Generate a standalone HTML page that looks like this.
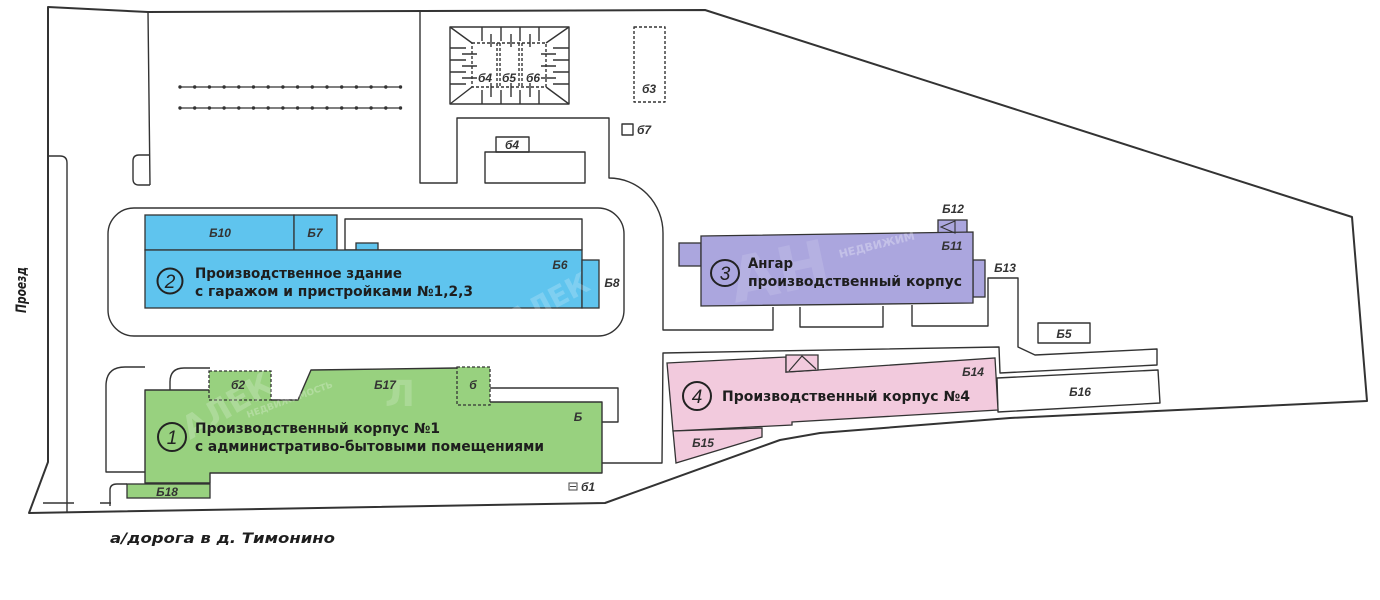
<!DOCTYPE html>
<html><head><meta charset="utf-8">
<style>
html,body{margin:0;padding:0;background:#fff;}
svg{display:block;}
.s{fill:none;stroke:#333;stroke-width:1.4;stroke-linejoin:round;}
.l{font-family:"Liberation Sans",sans-serif;font-style:italic;font-weight:bold;font-size:12px;fill:#333;}
.t{font-family:"DejaVu Sans","Liberation Sans",sans-serif;font-weight:bold;font-size:14px;fill:#1e1e1e;}
.n{font-family:"Liberation Sans",sans-serif;font-style:italic;font-size:19px;fill:#222;}
.w{font-family:"DejaVu Sans","Liberation Sans",sans-serif;font-weight:bold;fill:#fff;}
</style></head><body>
<svg width="1380" height="600" viewBox="0 0 1380 600" xmlns="http://www.w3.org/2000/svg">
<rect width="1380" height="600" fill="#fff"/>

<!-- outer boundary -->
<polygon class="s" style="stroke-width:2" points="48,7 148,12 705,10 1352,217 1367,401 1010,418 820,433 780,440 605,503 29,513 48,462"/>

<!-- left inner road line -->
<path class="s" d="M48,156 H60 Q67,156 67,163 V513"/>
<path class="s" d="M43,503 H74 M100,503 H111"/>

<!-- top-left vertical and small rounded -->
<path class="s" d="M148,12 L150,185 M150,155 H139 Q133,155 133,161 V179 Q133,185 139,185 H150"/>

<!-- fences -->
<g stroke="#333" stroke-width="1.3">
<line x1="180" y1="87" x2="401" y2="87"/><line x1="180" y1="108" x2="401" y2="108"/>
</g>
<g fill="#333">
<circle cx="180" cy="87" r="1.7"/><circle cx="194.7" cy="87" r="1.7"/><circle cx="209.4" cy="87" r="1.7"/><circle cx="224.1" cy="87" r="1.7"/><circle cx="238.8" cy="87" r="1.7"/><circle cx="253.5" cy="87" r="1.7"/><circle cx="268.2" cy="87" r="1.7"/><circle cx="282.9" cy="87" r="1.7"/><circle cx="297.6" cy="87" r="1.7"/><circle cx="312.3" cy="87" r="1.7"/><circle cx="327" cy="87" r="1.7"/><circle cx="341.7" cy="87" r="1.7"/><circle cx="356.4" cy="87" r="1.7"/><circle cx="371.1" cy="87" r="1.7"/><circle cx="385.8" cy="87" r="1.7"/><circle cx="400.5" cy="87" r="1.7"/>
<circle cx="180" cy="108" r="1.7"/><circle cx="194.7" cy="108" r="1.7"/><circle cx="209.4" cy="108" r="1.7"/><circle cx="224.1" cy="108" r="1.7"/><circle cx="238.8" cy="108" r="1.7"/><circle cx="253.5" cy="108" r="1.7"/><circle cx="268.2" cy="108" r="1.7"/><circle cx="282.9" cy="108" r="1.7"/><circle cx="297.6" cy="108" r="1.7"/><circle cx="312.3" cy="108" r="1.7"/><circle cx="327" cy="108" r="1.7"/><circle cx="341.7" cy="108" r="1.7"/><circle cx="356.4" cy="108" r="1.7"/><circle cx="371.1" cy="108" r="1.7"/><circle cx="385.8" cy="108" r="1.7"/><circle cx="400.5" cy="108" r="1.7"/>
</g>

<!-- roads -->
<path class="s" d="M420,10 V183 H457 V118 H609 V178 A54,55 0 0 1 663,233 V330 H773 V307 M800,307 V327 H883 V306 M912,305 V326 H988 V278 H1018 V347 L1035,355 L1157,349 V365 L1000,373 L999,347 L663,353 L662,463 H602"/>
<polygon class="s" points="997,378 1158,370 1160,403 998,412"/>
<rect class="s" x="1038" y="323" width="52" height="20"/>

<!-- hatched structure -->
<rect class="s" x="450" y="27" width="119" height="77"/>
<rect class="s" x="472" y="43" width="74" height="44" stroke-dasharray="3,2"/>
<path class="s" stroke-dasharray="3,2" d="M497,43 V87 M500,43 V87 M519,43 V87 M522,43 V87"/>
<path class="s" d="M450,27 L472,43 M569,27 L546,43 M450,104 L472,87 M569,104 L546,87"/>
<path class="s" stroke-width="1.1" d="M482,27 V41 M501,27 V41 M520,27 V41 M539,27 V41 M491,34 V47 M511,34 V47 M530,34 V47
M482,90 V104 M501,90 V104 M520,90 V104 M539,90 V104 M491,83 V97 M511,83 V97 M530,83 V97
M450,48 H466 M450,60 H466 M450,72 H466 M450,84 H466 M462,54 H477 M462,66 H477 M462,78 H477
M553,48 H569 M553,60 H569 M553,72 H569 M553,84 H569 M541,54 H556 M541,66 H556 M541,78 H556"/>
<text class="l" x="485" y="82" text-anchor="middle">б4</text>
<text class="l" x="509" y="82" text-anchor="middle">б5</text>
<text class="l" x="533" y="82" text-anchor="middle">б6</text>

<rect class="s" x="634" y="27" width="31" height="75" stroke-dasharray="3,2"/>
<text class="l" x="649" y="93" text-anchor="middle">б3</text>
<rect class="s" x="622" y="124" width="11" height="11"/>
<text class="l" x="637" y="134">б7</text>

<rect class="s" x="485" y="152" width="100" height="31"/>
<rect class="s" x="496" y="137" width="33" height="15"/>
<text class="l" x="512" y="149" text-anchor="middle">б4</text>

<!-- Building 2 -->
<rect class="s" x="108" y="208" width="516" height="128" rx="26"/>
<rect class="s" x="345" y="219" width="237" height="31"/>
<g fill="#5fc4ee" stroke="#333" stroke-width="1.3">
<rect x="145" y="215" width="149" height="35"/>
<rect x="294" y="215" width="43" height="35"/>
<rect x="356" y="243" width="22" height="7"/>
<rect x="145" y="250" width="437" height="58"/>
<rect x="582" y="260" width="17" height="48"/>
</g>
<text class="l" x="220" y="237" text-anchor="middle">Б10</text>
<text class="l" x="315" y="237" text-anchor="middle">Б7</text>
<text class="l" x="560" y="269" text-anchor="middle">Б6</text>
<text class="l" x="612" y="287" text-anchor="middle">Б8</text>
<text class="w" x="515" y="330" font-size="28" opacity="0.2" transform="rotate(-28 515 330)">АЛЕК</text>
<circle cx="170" cy="281" r="12.5" fill="none" stroke="#222" stroke-width="2"/>
<text class="n" x="170" y="288" text-anchor="middle">2</text>
<text class="t" x="195" y="278" textLength="207" lengthAdjust="spacingAndGlyphs">Производственное здание</text>
<text class="t" x="195" y="296" textLength="278" lengthAdjust="spacingAndGlyphs">с гаражом и пристройками №1,2,3</text>

<!-- Building 1 roads -->
<path class="s" d="M145,367 H125 Q106,367 106,386 V472 H145"/>
<path class="s" d="M170,390 V382 Q170,368 184,368 H210"/>
<path class="s" d="M110,506 V490 Q110,484 117,484 H127"/>
<path class="s" d="M490,388 H618 V422 H602"/>

<!-- Building 1 -->
<polygon fill="#98d17f" points="145,390 209,390 209,371 271,371 271,400 298,400 311,370 457,368 457,367 490,367 490,402 602,402 602,473 210,473 210,483 145,483"/>
<path class="s" d="M209,390 H145 V483 H210 V473 H602 V402 H490 M271,400 H298 L311,370 L457,368"/>
<rect x="209" y="371" width="62" height="29" fill="#98d17f" stroke="#333" stroke-width="1.3" stroke-dasharray="3,2"/>
<rect x="457" y="367" width="33" height="38" fill="#98d17f" stroke="#333" stroke-width="1.3" stroke-dasharray="3,2"/>
<rect x="127" y="484" width="83" height="14" fill="#98d17f" stroke="#333" stroke-width="1.3"/>
<text class="w" x="190" y="440" font-size="32" opacity="0.2" transform="rotate(-30 190 440)">АЛЕК</text>
<text class="w" x="248" y="418" font-size="9" opacity="0.25" transform="rotate(-20 248 418)">НЕДВИЖИМОСТЬ</text>
<text class="w" x="385" y="406" font-size="36" opacity="0.18">Л</text>
<text class="l" x="238" y="389" text-anchor="middle">б2</text>
<text class="l" x="385" y="389" text-anchor="middle">Б17</text>
<text class="l" x="473" y="389" text-anchor="middle">б</text>
<text class="l" x="578" y="421" text-anchor="middle">Б</text>
<text class="l" x="167" y="496" text-anchor="middle">Б18</text>
<rect x="569" y="483" width="8" height="7" fill="none" stroke="#444" stroke-width="1"/>
<line x1="570" y1="486.5" x2="576" y2="486.5" stroke="#444" stroke-width="1"/>
<text class="l" x="581" y="491">б1</text>
<circle cx="172" cy="437" r="14" fill="none" stroke="#222" stroke-width="2"/>
<text class="n" x="172" y="444" text-anchor="middle">1</text>
<text class="t" x="195" y="433" textLength="245" lengthAdjust="spacingAndGlyphs">Производственный корпус №1</text>
<text class="t" x="195" y="451" textLength="349" lengthAdjust="spacingAndGlyphs">с административо-бытовыми помещениями</text>

<!-- Building 3 -->
<g fill="#aba6de" stroke="#333" stroke-width="1.3">
<rect x="679" y="243" width="22" height="23"/>
<rect x="973" y="260" width="12" height="37"/>
<rect x="938" y="220" width="29" height="14"/>
<polygon points="701,236 973,232 973,303 701,306"/>
</g>
<path d="M955,221 L941,227 L955,233 Z M955,221 V233" fill="none" stroke="#333" stroke-width="1.1"/>
<text class="w" x="735" y="303" font-size="62" opacity="0.12" transform="rotate(-12 735 303)">АН</text>
<text class="w" x="840" y="258" font-size="11" opacity="0.3" transform="rotate(-14 840 258)">НЕДВИЖИМ</text>
<text class="l" x="953" y="213" text-anchor="middle">Б12</text>
<text class="l" x="952" y="250" text-anchor="middle">Б11</text>
<text class="l" x="1005" y="272" text-anchor="middle">Б13</text>
<ellipse cx="725" cy="273" rx="14" ry="13" fill="none" stroke="#222" stroke-width="2"/>
<text class="n" x="725" y="280" text-anchor="middle">3</text>
<text class="t" x="748" y="268" font-size="13" textLength="45" lengthAdjust="spacingAndGlyphs">Ангар</text>
<text class="t" x="748" y="286" font-size="13" textLength="214" lengthAdjust="spacingAndGlyphs">производственный корпус</text>

<!-- Building 4 -->
<g fill="#f2cadd" stroke="#333" stroke-width="1.3">
<polygon points="667,363 786,357 786,372 818,370 995,358 998,410 792,422 792,425 673,431"/>
<polygon points="673,431 762,428 762,437 676,463"/>
<polygon points="786,355 818,355 818,370 786,372"/>
</g>
<path d="M789,371 L802,356 L816,369" fill="none" stroke="#333" stroke-width="1.2"/>
<text class="l" x="973" y="376" text-anchor="middle">Б14</text>
<text class="l" x="703" y="447" text-anchor="middle">Б15</text>
<text class="l" x="1080" y="396" text-anchor="middle">Б16</text>
<text class="l" x="1064" y="338" text-anchor="middle">Б5</text>
<circle cx="697" cy="396" r="14" fill="none" stroke="#222" stroke-width="2"/>
<text class="n" x="697" y="403" text-anchor="middle">4</text>
<text class="t" x="722" y="401" textLength="248" lengthAdjust="spacingAndGlyphs">Производственный корпус №4</text>

<!-- labels outside -->
<text class="t" x="0" y="0" font-size="13" font-style="italic" textLength="46" lengthAdjust="spacingAndGlyphs" transform="translate(26 313) rotate(-90)">Проезд</text>
<text class="t" x="110" y="543" font-size="14" font-style="italic" textLength="225" lengthAdjust="spacingAndGlyphs">а/дорога в д. Тимонино</text>
</svg>
</body></html>
